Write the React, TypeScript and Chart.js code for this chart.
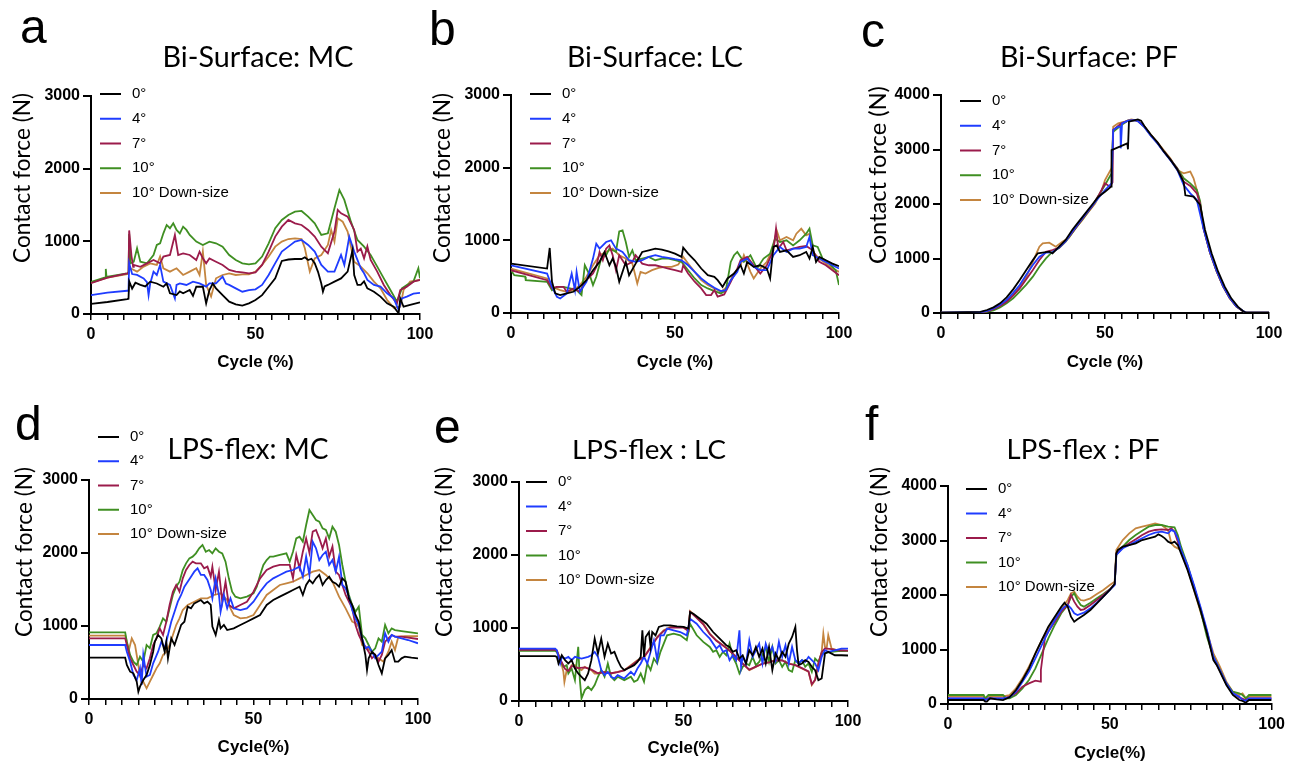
import React, { useEffect, useRef } from 'react';
import { Chart, registerables } from 'chart.js';

Chart.register(...registerables);

// ---------------- data ----------------
const SERIES_LABELS = ['0°', '4°', '7°', '10°', '10° Down-size'];
const SERIES_COLORS = ['#000000', '#1f3cff', '#9b1b4b', '#3f8f22', '#c4853f'];
const X_TICK_LABELS = [0, 50, 100];
const X_TITLES = ['Cycle (%)', 'Cycle (%)', 'Cycle (%)', 'Cycle(%)', 'Cycle(%)', 'Cycle(%)'];
const PANEL_TITLES = ['Bi-Surface: MC', 'Bi-Surface: LC', 'Bi-Surface: PF', 'LPS-flex: MC', 'LPS-flex : LC', 'LPS-flex : PF'];
const PANEL_LETTERS = ['a', 'b', 'c', 'd', 'e', 'f'];
const Y_MAX = [3000, 3000, 4000, 3000, 3000, 4000];

// a: Bi-Surface MC
const bsMC_0 = [[0,140],[5,165],[11,205],[11.4,210],[11.6,450],[12.5,350],[13.5,430],[15,400],[16.5,380],[18,445],[20,420],[22,375],[23,420],[24,285],[26,260],[27,310],[28,285],[30,330],[31,250],[32,375],[34,375],[35,147],[36,330],[37,420],[38,353],[40,260],[42,170],[44,133],[46,115],[48,147],[50,193],[52,260],[54,375],[56,490],[58,730],[60,750],[62,757],[64,757],[65,780],[66,743],[67,760],[68,700],[69,580],[70,420],[70.5,307],[71,380],[72,400],[74,445],[76,490],[78,583],[79.5,880],[80,537],[81,400],[82,400],[83,450],[84,353],[85,330],[86,307],[88,240],[90,147],[92,100],[93.5,10],[94,215],[95,100],[97,124],[100,160]];
const bsMC_4 = [[0,260],[5,295],[11,320],[11.4,320],[11.6,700],[12.5,550],[14,537],[16,490],[17,440],[17.5,260],[18,420],[19,583],[20,537],[21,675],[22,445],[24,400],[25.5,215],[26,400],[27,422],[29,400],[31,445],[33,422],[35,376],[36,422],[38,422],[40,514],[41,420],[42,400],[44,353],[46,307],[48,330],[50,340],[52,400],[54,537],[56,700],[58,858],[60,927],[62,996],[64,1019],[66,950],[68,858],[70,675],[72,583],[74,583],[76,812],[77,675],[78.5,1065],[80,858],[82,629],[83,560],[84,468],[86,400],[88,376],[90,285],[92,215],[93.5,55],[94.5,215],[96,240],[98,280],[100,290]];
const bsMC_7 = [[0,425],[5,500],[11,560],[11.4,565],[11.6,1150],[12.3,800],[12.8,650],[13,675],[15,650],[17,697],[19,743],[21,697],[22,790],[24,812],[25.5,1088],[26.5,812],[28,835],[30,812],[32,743],[33,858],[34,766],[35,697],[36,766],[38,720],[40,675],[42,606],[44,583],[46,573],[48,560],[50,573],[52,675],[54,858],[56,1065],[58,1202],[60,1294],[62,1248],[64,1225],[66,1157],[68,1065],[70,927],[72,835],[74,1134],[75,1432],[76,1386],[78,1340],[80,1157],[81,858],[82,900],[83,766],[84,930],[85,743],[87,583],[89,400],[91,260],[93,147],[94,330],[96,376],[98,445],[100,470]];
const bsMC_10 = [[0,440],[4.3,505],[4.5,620],[4.7,510],[11,560],[11.4,565],[11.6,1100],[12,697],[13,720],[14,904],[15,720],[17,697],[19,812],[20,950],[21,973],[22,1110],[23,1225],[24,1180],[25,1248],[26,1157],[27,1110],[28,1202],[29,1157],[30,1088],[32,996],[34,950],[36,996],[38,973],[40,927],[42,812],[44,743],[46,697],[48,684],[50,697],[52,790],[54,973],[56,1180],[58,1294],[60,1363],[62,1409],[64,1418],[66,1340],[68,1248],[70,1088],[72,1110],[74,1455],[75.5,1707],[77,1570],[79,1271],[81,1019],[83,927],[85,812],[87,652],[89,491],[91,330],[93,170],[94.5,353],[96,400],[98,445],[99.5,629],[100,491]];
const bsMC_10ds = [[0,430],[5,500],[11,550],[11.4,555],[11.6,640],[12,629],[14,583],[16,652],[18,697],[20,675],[21,790],[22,629],[24,583],[26,629],[28,537],[30,583],[32,629],[33,537],[34,858],[35,400],[36.5,240],[38,491],[40,537],[42,560],[44,537],[46,546],[48,546],[50,583],[52,675],[54,790],[56,927],[58,996],[60,1032],[62,1042],[64,1032],[65,904],[66.5,583],[68,766],[70,812],[72,950],[73,1157],[74,996],[75,1317],[76.5,1271],[78,1134],[80,720],[82,652],[84,560],[86,445],[88,353],[90,193],[92,87],[94,100],[95,330],[97,445],[100,468]];

// b: Bi-Surface LC
const bsLC_0 = [[0,680],[11,612],[11.8,895],[12.5,430],[13.5,270],[15,247],[17,270],[19,292],[21,360],[23,452],[25,589],[27,703],[28.5,840],[30,657],[31,749],[32,635],[33,430],[35,703],[36,520],[38,680],[40,840],[42,863],[44,886],[46,872],[48,849],[50,817],[52,772],[52.5,900],[54,817],[56,726],[58,612],[60,520],[62,498],[63,452],[64.5,360],[66,475],[68,543],[70,657],[71,543],[72,703],[74,635],[76,657],[78,612],[79,475],[80,909],[81,931],[82,840],[84,863],[86,772],[88,795],[90,840],[91,749],[92,909],[93,703],[94,772],[96,726],[98,680],[100,644]];
const bsLC_4 = [[0,657],[11,543],[12.5,360],[14,224],[15,200],[17,270],[18.5,543],[19.5,315],[20,566],[21,292],[23,430],[25,749],[26,954],[27,886],[29,977],[30.5,1000],[32,886],[34,840],[36,726],[38,703],[40,726],[42,772],[44,795],[46,772],[48,758],[50,740],[52,726],[54,657],[56,566],[58,475],[60,406],[62,347],[64,301],[65.5,315],[67,452],[69,566],[70,703],[72,749],[74,635],[76,589],[78,589],[80,795],[82,909],[84,840],[86,886],[88,886],[90,909],[91,1046],[92,795],[94,749],[96,703],[98,657],[100,612]];
const bsLC_7 = [[0,589],[11,452],[12.5,338],[14,360],[16,360],[17,292],[19,338],[21,292],[23,452],[25,543],[26,635],[27,840],[28,726],[29,886],[30,931],[31,795],[32,589],[33,795],[35,657],[37,703],[38,795],[40,680],[42,657],[44,657],[46,635],[48,612],[50,589],[52,566],[52.5,657],[54,543],[56,430],[58,338],[59.5,247],[61,247],[62,315],[63,224],[65,256],[67,430],[69,612],[70,726],[72,772],[74,657],[76,543],[78,657],[80,863],[80.8,1160],[81.5,886],[83,977],[84,863],[86,886],[88,909],[90,922],[92,863],[94,703],[96,657],[98,589],[100,520]];
const bsLC_10 = [[0,589],[1,520],[4.3,500],[4.5,452],[11,430],[12.5,315],[14,360],[16,360],[18,338],[20,315],[21.5,247],[22.5,657],[24,520],[25,384],[26,498],[27.5,749],[29,795],[30,886],[31,863],[32,840],[33,1123],[34,1137],[35,977],[36,772],[37,863],[38,726],[40,749],[42,772],[44,726],[46,749],[48,749],[50,726],[52,703],[54,589],[56,475],[58,384],[60,338],[62,301],[64,270],[65.5,315],[67,703],[68,795],[69,840],[71,703],[73,795],[75,612],[77,749],[79,817],[80.5,1023],[82,977],[84,1000],[86,931],[88,1000],[90,1091],[91,1160],[92,931],[93.5,909],[95,749],[97,680],[99,589],[100,384]];
const bsLC_10ds = [[0,612],[11,475],[12.5,360],[15,315],[17,292],[19,315],[21,384],[23,498],[25,657],[27,795],[29,840],[31,886],[33,795],[35,749],[37,680],[38.5,406],[39.5,566],[41,543],[43,589],[45,621],[47,635],[49,635],[51,667],[52.5,772],[54,680],[56,566],[58,452],[60,384],[62,338],[64,292],[66,360],[68,543],[70,657],[71,795],[73,566],[74,475],[76,612],[78,703],[80,909],[81,1137],[82,1000],[84,1046],[86,1000],[87,1091],[88.5,1160],[90,1069],[91,1091],[92,840],[94,749],[96,680],[98,612],[100,566]];

// c: Bi-Surface PF
const bsPF_0 = [[0,8],[12,20],[14,55],[16,104],[18,177],[20,287],[22,434],[24,605],[26,789],[28,970],[29.5,1095],[31,1107],[33,1125],[34,1095],[36,1217],[38,1340],[40,1523],[42,1676],[44,1829],[46,1982],[48,2134],[50,2226],[51.9,2318],[52,2990],[54.5,3052],[56.8,3113],[57,3003],[57.3,3511],[60,3553],[61,3529],[62,3430],[64,3270],[66,3130],[68,2960],[70,2810],[72,2640],[74,2400],[74.5,2160],[77,2134],[79,1982],[80.5,1523],[82.5,1095],[84.5,758],[86.5,483],[88.5,269],[90.5,116],[92,37],[93,5],[100,5]];
const bsPF_4 = [[0,8],[12,15],[14,40],[16,85],[18,150],[20,240],[22,370],[24,514],[26,700],[28,880],[30,1034],[32,1107],[34,1113],[36,1200],[38,1320],[40,1490],[42,1650],[44,1810],[46,1960],[48,2110],[50,2257],[52,2380],[52.5,3360],[54,3419],[54.7,3419],[54.8,3021],[55.2,3480],[57,3529],[59,3540],[60,3520],[62,3410],[64,3250],[66,3110],[68,2950],[70,2800],[72,2630],[74,2348],[76,2196],[78,2073],[80,1560],[82,1120],[84,780],[86,500],[88,285],[90,125],[92,40],[93,5],[100,5]];
const bsPF_7 = [[0,8],[12,12],[14,30],[16,70],[18,130],[20,208],[22,320],[24,452],[26,620],[28,789],[30,972],[32,1125],[34,1156],[36,1200],[38,1320],[40,1480],[42,1640],[44,1800],[46,1950],[48,2150],[50,2379],[51.5,2318],[52.3,2400],[52.5,3358],[55,3480],[57,3529],[59,3540],[60,3520],[62,3420],[64,3260],[66,3120],[68,2960],[70,2810],[72,2650],[74,2410],[76,2330],[78,2196],[79,2000],[80,1560],[82,1110],[84,770],[86,490],[88,275],[90,120],[92,38],[93,5],[100,5]];
const bsPF_10 = [[0,8],[12,10],[14,20],[16,50],[18,100],[20,177],[22,270],[24,391],[26,520],[28,667],[30,850],[32,1003],[34,1125],[36,1190],[38,1310],[40,1470],[42,1630],[44,1790],[46,1950],[48,2150],[50,2348],[52,2563],[52.5,3327],[55,3450],[57,3529],[59,3540],[60,3520],[62,3420],[64,3260],[66,3120],[68,2960],[70,2810],[72,2660],[74,2471],[76,2379],[78,2257],[79,2050],[80,1580],[82,1110],[84,770],[86,490],[88,275],[90,120],[92,38],[93,5],[100,5]];
const bsPF_10ds = [[0,8],[12,12],[14,35],[16,80],[18,140],[20,226],[22,340],[24,483],[26,660],[28,940],[29.5,1150],[30,1217],[31,1278],[33,1290],[35,1217],[37,1309],[39,1380],[41,1560],[43,1700],[45,1860],[47,2010],[49,2250],[50,2440],[52,2655],[52.5,3419],[54,3480],[56,3511],[58,3553],[60,3530],[62,3420],[64,3270],[66,3130],[68,2980],[70,2830],[72,2624],[74,2563],[76,2594],[77,2471],[78,2257],[79,2012],[80,1560],[82,1110],[84,770],[86,490],[88,275],[90,120],[92,38],[93,5],[100,5]];

// d: LPS-flex MC
const lpsMC_0 = [[0,566],[11,566],[11.5,466],[12.5,374],[13.5,352],[14.5,237],[15,100],[15.5,169],[16.5,260],[17.5,329],[18.5,466],[19.5,648],[20,785],[21,877],[22,831],[23,648],[23.5,785],[24,557],[25,831],[26,740],[27,877],[28,1014],[29,1059],[30,1265],[31,1242],[32,1310],[33,1333],[34,1356],[35,1310],[36,1333],[37,1288],[37.5,991],[38.5,877],[39.5,1082],[40,968],[41,1014],[42,945],[44,968],[46,1014],[48,1059],[50,1105],[52,1151],[54,1288],[56,1356],[58,1402],[60,1447],[62,1493],[64,1539],[65,1425],[66,1562],[67,1630],[68,1584],[69,1653],[70,1699],[71,1562],[72,1630],[73,1676],[74,1607],[75,1584],[76,1539],[77,1653],[78,1607],[79,1379],[80,1288],[81,1151],[82,1059],[83,831],[84,603],[84.5,397],[85,557],[86,648],[87,603],[88,466],[89,352],[90,557],[91,603],[92,671],[93,511],[94,511],[95,557],[96,580],[98,566],[100,557]];
const lpsMC_4 = [[0,740],[11,740],[11.5,648],[12.5,511],[13.5,329],[14.5,260],[15.5,420],[16,192],[16.5,603],[17.5,306],[18.5,329],[19.5,489],[21,648],[22,785],[23,694],[24,877],[25,1059],[26,1196],[27,1333],[28,1425],[29,1539],[30,1607],[31,1676],[32,1744],[33,1790],[34,1699],[35,1699],[36,1630],[37,1493],[37.5,1379],[38.5,1653],[39.5,1425],[40,1196],[41,1425],[42,1242],[43,1379],[44,1242],[46,1219],[48,1242],[50,1333],[52,1470],[54,1584],[56,1653],[58,1699],[60,1744],[62,1767],[64,1813],[65,1676],[66,1950],[67,1699],[68,2155],[69,2064],[70,1904],[71,1973],[72,2018],[73,1836],[74,1904],[75,1744],[76,1950],[77,1562],[78,1516],[79,1402],[80,1219],[81,1105],[82,1014],[83,831],[84,694],[85,717],[86,648],[87,557],[88,603],[89,648],[90,900],[91,785],[92,877],[93,854],[95,831],[97,808],[100,763]];
const lpsMC_7 = [[0,831],[11,831],[11.5,740],[12.5,557],[13.5,466],[14.5,374],[15.5,329],[16.5,466],[17.5,420],[18.5,557],[19.5,740],[20.5,831],[21.5,968],[22.5,877],[23.5,1059],[24.5,1288],[25.5,1470],[26.5,1562],[27.5,1470],[28.5,1653],[29.5,1767],[30.5,1836],[31.5,1881],[32.5,1858],[34,1858],[35,1790],[36,1813],[37,1676],[37.5,1813],[38.5,1493],[39.5,1744],[40.5,1333],[41.5,1607],[42.5,1288],[44,1242],[46,1288],[48,1333],[50,1470],[52,1653],[54,1767],[56,1813],[58,1836],[60,1836],[61,1836],[62,1653],[63,1973],[64,1790],[65,2018],[66,2201],[67,2000],[68,2292],[69,2315],[70,2201],[71,2064],[72,2201],[73,1950],[74,2087],[75,1744],[76,1699],[77,1562],[78,1425],[79,1333],[80,1242],[81,1014],[82,877],[83,785],[84,717],[85,648],[86,557],[87,603],[88,511],[89,603],[90,785],[91,831],[92,877],[93,854],[95,854],[100,822]];
const lpsMC_10 = [[0,913],[11,913],[11.5,785],[12.5,603],[13.5,511],[14.5,466],[15.5,580],[16.5,511],[17.5,740],[18.5,694],[19.5,877],[20.5,900],[21.5,991],[22.5,1105],[23.5,1059],[24.5,1242],[25.5,1425],[26.5,1539],[27.5,1607],[28.5,1767],[29.5,1858],[30.5,1927],[31.5,1950],[32.5,1995],[33.5,2064],[34.5,2110],[35.5,2018],[36.5,2041],[37.5,1995],[38.5,2064],[39.5,2018],[40.5,1995],[41.5,1881],[42.5,1653],[43.5,1470],[44.5,1402],[46,1379],[48,1402],[50,1447],[51,1539],[52,1699],[53,1836],[54,1904],[55,1950],[56,1950],[58,1973],[60,1995],[61,1881],[62,2018],[63,2201],[64,2224],[65,2155],[66,2383],[67,2589],[68,2520],[69,2452],[70,2429],[71,2338],[72,2315],[73,2201],[74,2360],[75,2292],[76,2110],[77,1836],[78,1607],[79,1425],[80,1288],[81,1196],[82,1265],[83,877],[84,831],[85,740],[86,648],[87,694],[88,831],[89,785],[90,1014],[91,900],[92,968],[93,945],[95,931],[100,900]];
const lpsMC_10ds = [[0,868],[11,868],[11.5,785],[12,648],[13,831],[14,740],[15,466],[15.5,306],[16.5,237],[17.5,146],[18.5,237],[19.5,329],[20.5,420],[21.5,489],[22.5,603],[23.5,648],[24.5,740],[25.5,877],[26.5,1014],[27.5,1105],[28.5,1219],[30,1288],[32,1333],[34,1379],[36,1379],[38,1425],[40,1447],[42,1356],[43,1242],[44,1151],[46,1105],[48,1114],[50,1151],[52,1288],[54,1425],[56,1493],[58,1562],[60,1584],[62,1607],[64,1653],[66,1699],[68,1744],[70,1767],[72,1699],[74,1607],[76,1402],[78,1242],[80,1059],[81,1037],[82,991],[83,740],[84,717],[86,648],[88,557],[89.5,511],[91,648],[92,785],[93,671],[94,850],[96,860],[100,860]];

// e: LPS-flex LC
const lpsLC_0 = [[0,614],[11,614],[11.5,605],[12,514],[13,627],[14,559],[15,514],[16,559],[17,445],[18,377],[19,332],[20,286],[21,377],[22,559],[23,854],[24,650],[25,854],[26,605],[27,786],[28,650],[29,673],[30,559],[31,468],[32,423],[33,445],[34,468],[35,491],[36,536],[37,605],[37.5,968],[38,605],[38.5,877],[39.5,945],[40,741],[40.5,945],[41.5,900],[42.5,1014],[44,1036],[46,1036],[48,1023],[50,1014],[51.5,991],[52,1218],[53,1195],[55,1127],[57,1059],[59,945],[61,854],[63,764],[64,741],[65,673],[66,695],[67,582],[68,627],[69,514],[70,695],[71,627],[72,741],[73,605],[74,718],[75,514],[76,741],[77,423],[78,650],[79,559],[80,673],[81,605],[82,786],[83,877],[84,1014],[84.5,695],[85,491],[86,514],[87,559],[88,536],[89,468],[90,423],[91,286],[92,309],[93,650],[94,673],[96,627],[98,627],[100,623]];
const lpsLC_4 = [[0,718],[11,718],[11.5,695],[12.5,514],[13,605],[14,582],[15,605],[16,559],[17,605],[19,582],[21,605],[22,627],[23,673],[24,605],[25,423],[26,355],[27,400],[28,332],[29,309],[30,355],[32,309],[34,400],[35,355],[36,445],[37,514],[38,605],[39,514],[40,673],[41,832],[42,559],[43,900],[44,900],[45,991],[47,968],[49,945],[51,900],[52,1127],[54,1059],[56,945],[58,854],[60,718],[61,764],[62,673],[63,695],[64,559],[65,627],[66,559],[67,968],[67.5,468],[68,605],[69,514],[70,832],[71,605],[72,695],[73,786],[74,514],[75,786],[76,650],[77,741],[78,559],[79,809],[80,605],[81,764],[82,514],[83,741],[84,559],[85,514],[86,559],[87,536],[88,605],[89,559],[90,514],[91,423],[92,605],[93,695],[94,673],[96,695],[98,718],[100,718]];
const lpsLC_7 = [[0,700],[11,700],[11.5,690],[12.5,575],[14,440],[15,410],[16,480],[18,450],[20,460],[22,430],[24,380],[26,395],[28,380],[30,395],[32,420],[34,480],[36,550],[38,600],[40,730],[42,870],[44,960],[46,1005],[48,1010],[50,1005],[51.5,960],[52,1220],[54,1140],[56,1050],[58,915],[60,825],[62,760],[64,690],[66,600],[68,510],[70,430],[72,470],[74,510],[76,530],[78,555],[80,555],[82,510],[84,490],[86,450],[88,405],[89,230],[90,290],[91,510],[92,670],[93,720],[95,710],[97,695],[100,690]];
const lpsLC_10 = [[0,686],[11,686],[11.5,673],[12.5,559],[13.5,468],[14.5,491],[15,377],[16,445],[17,286],[18,741],[18.5,286],[19,36],[20,150],[21,195],[22,150],[23,218],[24,332],[25,423],[26,332],[27,514],[28,332],[29,286],[30,332],[32,286],[34,332],[35,264],[36,286],[37,377],[38,264],[39,514],[40,423],[41,582],[42,514],[43,673],[44,786],[45,900],[47,923],[49,900],[51,832],[52,1059],[54,900],[56,809],[58,741],[59,673],[60,695],[61,605],[62,673],[63,627],[64,786],[65,605],[66,514],[67,377],[68,468],[69,514],[70,491],[71,605],[72,491],[73,536],[74,627],[75,741],[76,536],[77,741],[78,514],[79,559],[80,468],[81,536],[82,423],[83,400],[84,559],[85,514],[86,559],[87,468],[88,514],[89,400],[90,582],[91,536],[92,650],[93,659],[95,673],[97,682],[100,686]];
const lpsLC_10ds = [[0,705],[11,705],[11.5,686],[12.5,582],[13.5,400],[13.8,260],[14.5,423],[15,400],[16,491],[17,491],[18,445],[19,423],[20,468],[21,445],[22,423],[23,377],[24,377],[26,400],[28,377],[30,400],[32,423],[34,491],[36,559],[37,582],[38,605],[40,741],[42,877],[44,968],[46,1014],[48,1014],[50,1014],[51.5,968],[52,1232],[54,1150],[56,1059],[58,923],[60,832],[62,764],[64,695],[66,605],[68,514],[70,423],[72,468],[74,514],[76,536],[78,559],[80,559],[82,514],[84,491],[86,445],[88,400],[89,218],[90,286],[91,514],[92,673],[92.5,923],[93,741],[93.5,718],[94,900],[95,718],[97,695],[100,686]];

// f: LPS-flex PF
const lpsPF_0 = [[0,73],[11,73],[11.5,43],[12,43],[13,104],[15,86],[17,73],[19,122],[21,257],[23,440],[25,654],[27,930],[29,1174],[31,1419],[33,1602],[35,1786],[36,1859],[37,1786],[38,1602],[39,1511],[40,1553],[42,1633],[44,1725],[46,1847],[48,1969],[50,2092],[51.5,2202],[52,2765],[52.5,2826],[54,2887],[56,2917],[58,2948],[60,3009],[62,3040],[64,3070],[65,3113],[66,3082],[67,3040],[68,2979],[69,2948],[70,2979],[71,2917],[72,2765],[74,2459],[76,2092],[78,1725],[80,1297],[81,1052],[82,807],[83,716],[84,593],[86,349],[88,165],[90,73],[91,55],[92,24],[93,73],[100,73]];
const lpsPF_4 = [[0,104],[11,104],[11.5,70],[12.5,104],[17,104],[19,122],[21,226],[23,410],[25,593],[27,838],[29,1083],[31,1327],[33,1541],[35,1725],[36,1786],[37,1816],[38,1755],[39,1664],[40,1633],[42,1676],[44,1755],[46,1859],[48,1969],[50,2092],[51.5,2183],[52,2734],[54,2857],[56,2917],[58,2979],[60,3040],[62,3101],[64,3144],[66,3162],[68,3131],[69,3193],[70,3162],[71,3040],[72,2826],[74,2550],[76,2183],[78,1786],[80,1358],[82,868],[84,624],[86,379],[88,196],[90,135],[91,73],[92,61],[93,104],[100,104]];
const lpsPF_7 = [[0,104],[11,104],[11.5,80],[12.5,104],[17,104],[19,135],[21,196],[23,318],[25,379],[27,430],[28.6,410],[28.7,624],[30,1230],[31,1330],[33,1511],[35,1694],[37,1816],[38,2000],[39,1878],[40,1786],[41,1725],[42,1737],[44,1816],[46,1908],[48,2000],[50,2104],[51.5,2202],[52,2752],[54,2868],[56,2948],[58,3021],[60,3101],[62,3162],[64,3193],[66,3205],[68,3193],[69,3223],[70,3162],[71,2979],[72,2795],[74,2520],[76,2153],[78,1755],[80,1327],[82,838],[84,612],[86,367],[88,196],[90,122],[92,73],[93,104],[100,104]];
const lpsPF_10 = [[0,165],[11,165],[11.5,104],[12.5,165],[17,165],[18,104],[19,104],[21,165],[23,287],[25,440],[27,654],[29,930],[31,1205],[33,1450],[35,1664],[37,1816],[38,1969],[39,2030],[40,1908],[41,1816],[42,1786],[44,1859],[46,1939],[48,2018],[50,2104],[51.5,2202],[52,2734],[54,2887],[56,3009],[58,3101],[60,3180],[62,3254],[64,3284],[66,3284],[68,3254],[70,3241],[71,3101],[72,2887],[74,2550],[76,2153],[78,1725],[80,1235],[82,868],[84,624],[86,379],[88,226],[90,196],[91,165],[92,104],[93,165],[100,165]];
const lpsPF_10ds = [[0,147],[11,147],[11.5,90],[12.5,147],[17,140],[19,165],[21,287],[23,471],[25,685],[27,930],[29,1174],[31,1388],[33,1572],[35,1755],[37,1908],[38,2030],[39,2061],[40,1969],[41,1908],[42,1896],[44,1939],[46,2018],[48,2092],[50,2183],[51.5,2245],[52,2826],[54,3009],[56,3131],[58,3223],[60,3254],[62,3284],[64,3315],[66,3284],[68,3193],[69,2948],[70,2887],[71,2856],[72,2826],[74,2489],[76,2092],[78,1694],[80,1327],[82,930],[84,685],[86,410],[88,226],[90,165],[91,196],[92,104],[93,135],[100,135]];

const PANEL_SERIES = [
  [bsMC_0, bsMC_4, bsMC_7, bsMC_10, bsMC_10ds],
  [bsLC_0, bsLC_4, bsLC_7, bsLC_10, bsLC_10ds],
  [bsPF_0, bsPF_4, bsPF_7, bsPF_10, bsPF_10ds],
  [lpsMC_0, lpsMC_4, lpsMC_7, lpsMC_10, lpsMC_10ds],
  [lpsLC_0, lpsLC_4, lpsLC_7, lpsLC_10, lpsLC_10ds],
  [lpsPF_0, lpsPF_4, lpsPF_7, lpsPF_10, lpsPF_10ds],
];

// ---------------- layout (positions / styles) ----------------
const W = 1290;
const H = 762;
const Y_W = 60;
const X_H = 40;
const LAYOUT = [
  { L: 91, R: 420, T: 96, B: 314, lx: 20, ly: 43, tx: 258, ty: 67, tw: 191, yx: 23, yy: 178, yw: 170, gx: 100, gy: 94, gdy: 24.75, xty: 362 },
  { L: 511, R: 839, T: 95, B: 313, lx: 429, ly: 45, tx: 655, ty: 67, tw: 176, yx: 443, yy: 178, yw: 170, gx: 530, gy: 94, gdy: 24.75, xty: 362 },
  { L: 941, R: 1269, T: 95, B: 313, lx: 861, ly: 47, tx: 1089, ty: 67, tw: 178, yx: 878, yy: 175, yw: 178, gx: 960, gy: 101, gdy: 24.75, xty: 362 },
  { L: 89, R: 418, T: 480, B: 699, lx: 15, ly: 440, tx: 248, ty: 459, tw: 161, yx: 25, yy: 552, yw: 170, gx: 98, gy: 437, gdy: 24.25, xty: 747 },
  { L: 519, R: 848, T: 482, B: 701, lx: 434, ly: 443, tx: 649, ty: 459, tw: 154, yx: 445, yy: 552, yw: 170, gx: 526, gy: 482, gdy: 24.5, xty: 748 },
  { L: 948, R: 1277, T: 486, B: 704, lx: 865, ly: 440, tx: 1083, ty: 459, tw: 153, yx: 880, yy: 552, yw: 170, gx: 966, gy: 489, gdy: 24.5, xty: 753 },
];

const ARIAL = '"Liberation Sans", Arial, Helvetica, sans-serif';
const CAL = 'Lato, "Open Sans", "Liberation Sans", sans-serif';

function fitSize(ctx: CanvasRenderingContext2D, text: string, family: string, weight: string, width: number) {
  ctx.font = `${weight} 100px ${family}`;
  const w = ctx.measureText(text).width;
  return (100 * width) / w;
}

function makeChart(canvas: HTMLCanvasElement, i: number) {
  const lay = LAYOUT[i];
  const series = PANEL_SERIES[i];
  const textPlugin = {
    id: 'panelText' + i,
    afterDraw(chart: any) {
      const ctx: CanvasRenderingContext2D = chart.ctx;
      ctx.save();
      ctx.fillStyle = '#000';
      // panel letter
      ctx.font = `48px ${ARIAL}`;
      ctx.textAlign = 'left';
      ctx.textBaseline = 'alphabetic';
      ctx.fillText(PANEL_LETTERS[i], lay.lx, lay.ly);
      // title
      const ts = fitSize(ctx, PANEL_TITLES[i], CAL, 'normal', lay.tw);
      ctx.font = `normal ${ts}px ${CAL}`;
      ctx.textAlign = 'center';
      ctx.fillText(PANEL_TITLES[i], lay.tx, lay.ty);
      // y title
      const ys = fitSize(ctx, 'Contact force (N)', CAL, 'normal', lay.yw);
      ctx.save();
      ctx.translate(lay.yx, lay.yy);
      ctx.rotate(-Math.PI / 2);
      ctx.font = `normal ${ys}px ${CAL}`;
      ctx.textAlign = 'center';
      ctx.textBaseline = 'middle';
      ctx.fillText('Contact force (N)', 0, 0);
      ctx.restore();
      // x title
      const area = chart.chartArea;
      ctx.font = `bold 17px ${ARIAL}`;
      ctx.textAlign = 'center';
      ctx.textBaseline = 'middle';
      ctx.fillText(X_TITLES[i], (area.left + area.right) / 2, lay.xty);
      // legend
      ctx.font = `15px ${ARIAL}`;
      ctx.textAlign = 'left';
      for (let k = 0; k < SERIES_LABELS.length; k++) {
        const y = lay.gy + k * lay.gdy;
        ctx.strokeStyle = SERIES_COLORS[k];
        ctx.lineWidth = 2;
        ctx.beginPath();
        ctx.moveTo(lay.gx, y);
        ctx.lineTo(lay.gx + 21, y);
        ctx.stroke();
        ctx.fillStyle = '#000';
        ctx.fillText(SERIES_LABELS[k], lay.gx + 32, y);
      }
      ctx.restore();
    },
  };

  return new Chart(canvas, {
    type: 'line',
    data: {
      datasets: series.map((s, k) => ({
        label: SERIES_LABELS[k],
        data: s.map(([x, y]) => ({ x, y })),
        borderColor: SERIES_COLORS[k],
        backgroundColor: SERIES_COLORS[k],
        borderWidth: 1.8,
        pointRadius: 0,
        tension: 0,
        fill: false,
      })),
    },
    options: {
      responsive: false,
      animation: false,
      devicePixelRatio: 1,
      events: [],
      layout: {
        padding: { left: lay.L - Y_W, top: lay.T, right: W - lay.R, bottom: H - lay.B - X_H },
      },
      plugins: { legend: { display: false }, tooltip: { enabled: false }, title: { display: false } },
      scales: {
        x: {
          type: 'linear',
          min: 0,
          max: 100,
          afterFit: (s: any) => { s.height = X_H; },
          border: { display: true, color: '#000', width: 2 },
          grid: { drawOnChartArea: false, drawTicks: true, tickLength: 6, color: '#000', lineWidth: 1.5 },
          ticks: {
            stepSize: 5,
            autoSkip: false,
            maxRotation: 0,
            padding: 5,
            color: '#000',
            font: { family: ARIAL, size: 16, weight: 'bold' },
            callback: (v: any) => (X_TICK_LABELS.includes(Number(v)) ? String(v) : ''),
          },
        },
        y: {
          type: 'linear',
          min: 0,
          max: Y_MAX[i],
          afterFit: (s: any) => { s.width = Y_W; },
          border: { display: true, color: '#000', width: 2 },
          grid: { drawOnChartArea: false, drawTicks: true, tickLength: 8, color: '#000', lineWidth: 2 },
          ticks: {
            stepSize: 1000,
            padding: 3,
            color: '#000',
            font: { family: ARIAL, size: 16, weight: 'bold' },
            callback: (v: any) => String(v),
          },
        },
      },
    } as any,
    plugins: [textPlugin],
  });
}

export default function App() {
  const refs = useRef<(HTMLCanvasElement | null)[]>([]);
  useEffect(() => {
    const charts = PANEL_SERIES.map((_, i) => makeChart(refs.current[i] as HTMLCanvasElement, i));
    return () => charts.forEach((c) => c.destroy());
  }, []);
  return (
    <div style={{ position: 'absolute', left: 0, top: 0, width: W, height: H, background: '#fff', overflow: 'hidden' }}>
      {PANEL_SERIES.map((_, i) => (
        <canvas
          key={i}
          ref={(el) => { refs.current[i] = el; }}
          width={W}
          height={H}
          style={{ position: 'absolute', left: 0, top: 0, width: W, height: H }}
        />
      ))}
    </div>
  );
}
